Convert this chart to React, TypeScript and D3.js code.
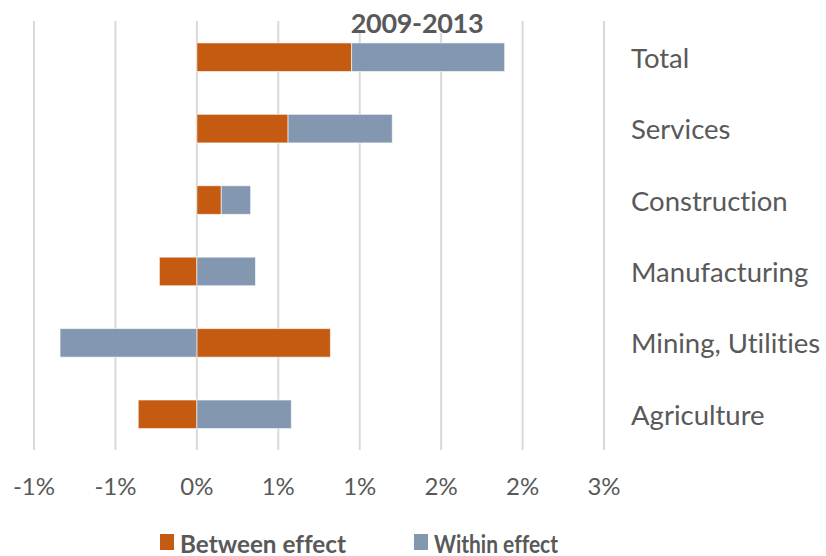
import React from "react";
import * as d3 from "d3";

const categories = ["Total", "Services", "Construction", "Manufacturing", "Mining, Utilities", "Agriculture"];
const betweenEffect = [0.95, 0.56, 0.15, -0.23, 0.82, -0.36];
const withinEffect = [0.94, 0.64, 0.18, 0.36, -0.84, 0.58];
const tickValues = [-1, -0.5, 0, 0.5, 1, 1.5, 2, 2.5];
const tickLabels = ["-1%", "-1%", "0%", "1%", "1%", "2%", "2%", "3%"];
const seriesNames = ["Between effect", "Within effect"];
const title = "2009-2013";

const W = 826;
const H = 556;
const COLORS = ["#C55A11", "#8497B0"];
const TEXT = "#595959";
const FONT = "Lato, 'Open Sans', sans-serif";

export default function App() {
  const x = d3.scaleLinear().domain([-1, 2.5]).range([34, 604]);
  const y = d3
    .scaleBand<string>()
    .domain(categories)
    .range([21.5, 450])
    .paddingInner(0.6)
    .paddingOuter(0.3);

  const rows = categories.map((c, i) => ({ cat: c, between: betweenEffect[i], within: withinEffect[i] }));
  const stack = d3
    .stack<any>()
    .keys(["between", "within"])
    .offset(d3.stackOffsetDiverging);
  const series = stack(rows);

  const legendItems = [
    { x: 160, label: seriesNames[0], color: COLORS[0], len: 166 },
    { x: 414, label: seriesNames[1], color: COLORS[1], len: 124 },
  ];

  const noLig = { fontVariantLigatures: "none" as const, fontFeatureSettings: "'liga' 0, 'clig' 0" };

  return (
    <svg
      width={W}
      height={H}
      style={{ position: "absolute", left: 0, top: 0, display: "block", background: "#fff", ...noLig }}
      fontFamily={FONT}
    >
      {tickValues.map((t, i) => (
        <line key={"g" + i} x1={x(t)} x2={x(t)} y1={21} y2={450} stroke="#D9D9D9" strokeWidth={2} />
      ))}
      <rect x={346} y={8} width={142} height={25} fill="#fff" />
      {series.map((s, si) =>
        s.map((d, i) => (
          <rect
            key={si + "-" + i}
            x={x(Math.min(d[0], d[1]))}
            width={Math.abs(x(d[1]) - x(d[0]))}
            y={y(categories[i])}
            height={y.bandwidth()}
            fill={COLORS[si]}
            stroke="#ffffff"
            strokeOpacity={0.6}
            strokeWidth={1}
          />
        ))
      )}
      <text x={417} y={22} textAnchor="middle" dominantBaseline="central" fontSize={27} fontWeight="bold" fill={TEXT} letterSpacing={-0.3}>
        {title}
      </text>
      {categories.map((c) => (
        <text
          key={c}
          x={631}
          y={(y(c) as number) + y.bandwidth() / 2}
          dominantBaseline="central"
          fontSize={27.5}
          fill={TEXT}
        >
          {c}
        </text>
      ))}
      {tickValues.map((t, i) => (
        <text key={"t" + i} x={x(t)} y={485} textAnchor="middle" dominantBaseline="central" fontSize={24} fill={TEXT}>
          {tickLabels[i]}
        </text>
      ))}
      {legendItems.map((l) => (
        <g key={l.label}>
          <rect x={l.x} y={534} width={14} height={16} fill={l.color} />
          <text
            x={l.x + 20}
            y={543}
            dominantBaseline="central"
            fontSize={24}
            fontWeight="bold"
            fill={TEXT}
            textLength={l.len}
            lengthAdjust="spacingAndGlyphs"
          >
            {l.label}
          </text>
        </g>
      ))}
    </svg>
  );
}
